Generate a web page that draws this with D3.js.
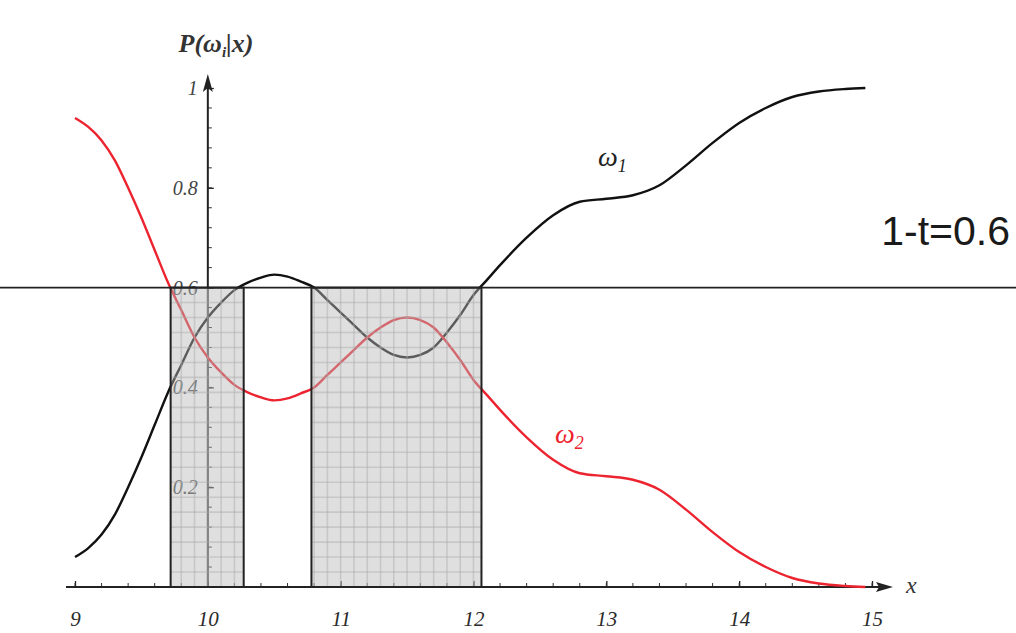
<!DOCTYPE html>
<html>
<head>
<meta charset="utf-8">
<script src="https://cdn.jsdelivr.net/npm/d3@7"></script>
<style>
  body { margin: 0; background: #fff; }
  svg { display: block; }
</style>
</head>
<body>
<svg id="chart"></svg>
<script>
// sample positions along x
var xVals = [9.0, 9.1, 9.2, 9.3, 9.4, 9.5, 9.6, 9.7, 9.8, 9.9, 10.0, 10.1, 10.2, 10.3, 10.4, 10.5,
  10.6, 10.7, 10.8, 10.9, 11.0, 11.1, 11.2, 11.3, 11.4, 11.5, 11.6, 11.7, 11.8, 11.9, 12.0, 12.1,
  12.2, 12.4, 12.6, 12.8, 13.0, 13.2, 13.4, 13.6, 13.8, 14.0, 14.2, 14.4, 14.6, 14.8, 14.95];

// P(w1|x) - black curve
var omega1 = [0.06, 0.078, 0.105, 0.145, 0.20, 0.26, 0.325, 0.39, 0.445, 0.50, 0.54, 0.57, 0.595,
  0.61, 0.62, 0.626, 0.622, 0.612, 0.60, 0.575, 0.55, 0.525, 0.50, 0.48, 0.465, 0.46, 0.465, 0.48,
  0.51, 0.545, 0.585, 0.615, 0.645, 0.70, 0.745, 0.772, 0.778, 0.785, 0.805, 0.845, 0.89, 0.93,
  0.96, 0.982, 0.993, 0.998, 1.0];

// P(w2|x) - red curve
var omega2 = [0.94, 0.922, 0.895, 0.855, 0.80, 0.74, 0.675, 0.61, 0.555, 0.50, 0.46, 0.43, 0.405,
  0.39, 0.38, 0.374, 0.378, 0.388, 0.40, 0.425, 0.45, 0.475, 0.50, 0.52, 0.535, 0.54, 0.535, 0.52,
  0.49, 0.455, 0.415, 0.385, 0.355, 0.30, 0.255, 0.228, 0.222, 0.215, 0.195, 0.155, 0.11, 0.07,
  0.04, 0.018, 0.007, 0.002, 0.0];

var xTickVals = [9, 10, 11, 12, 13, 14, 15];
var yTickVals = [0.2, 0.4, 0.6, 0.8, 1];
var threshold = 0.6;
// reject regions where max posterior < 1-t
var regions = [[9.72, 10.27], [10.78, 12.06]];

var svgWidth = 1016, svgHeight = 633;
var svg = d3.select("#chart").attr("width", svgWidth).attr("height", svgHeight);

var xScale = d3.scaleLinear().domain([9, 15]).range([75, 872]);
var yScale = d3.scaleLinear().domain([0, 1]).range([587, 88]);
var axisY0 = yScale(0), axisX0 = xScale(10);

var serif = "'Liberation Serif', 'DejaVu Serif', serif";

// x axis
var xAxis = d3.axisBottom(xScale)
  .tickValues(xTickVals)
  .tickSize(-6)
  .tickPadding(24)
  .tickFormat(d3.format("d"));
var gx = svg.append("g").attr("transform", "translate(0," + axisY0 + ")").call(xAxis);
gx.select(".domain").remove();
gx.selectAll("line").attr("stroke", "#222").attr("stroke-width", 1.3);
gx.selectAll("text").attr("font-family", serif).attr("font-style", "italic")
  .attr("font-size", 21).attr("fill", "#2a2a2a");

// minor ticks on x
svg.append("g").selectAll("line")
  .data(d3.range(9, 15.01, 0.2))
  .enter().append("line")
  .attr("x1", function(d) { return xScale(d); })
  .attr("x2", function(d) { return xScale(d); })
  .attr("y1", axisY0).attr("y2", axisY0 - 4)
  .attr("stroke", "#333").attr("stroke-width", 1);

svg.append("line")
  .attr("x1", 66).attr("x2", 880).attr("y1", axisY0).attr("y2", axisY0)
  .attr("stroke", "#222").attr("stroke-width", 2);
svg.append("path")
  .attr("d", "M893," + axisY0 + " L876," + (axisY0 - 5) + " L879," + axisY0 + " L876," + (axisY0 + 5) + " Z")
  .attr("fill", "#222");
svg.append("text").attr("x", 906).attr("y", axisY0 + 6)
  .attr("font-family", serif).attr("font-style", "italic").attr("font-size", 24)
  .attr("fill", "#333").text("x");

// y axis
var yAxis = d3.axisLeft(yScale)
  .tickValues(yTickVals)
  .tickSize(-6)
  .tickPadding(10)
  .tickFormat(function(d) { return d === 1 ? "1" : d3.format(".1f")(d); });
var gy = svg.append("g").attr("transform", "translate(" + axisX0 + ",0)").call(yAxis);
gy.select(".domain").remove();
gy.selectAll("line").attr("stroke", "#222").attr("stroke-width", 1.3);
gy.selectAll("text").attr("font-family", serif).attr("font-style", "italic")
  .attr("font-size", 20).attr("fill", "#444");

svg.append("g").selectAll("line")
  .data(d3.range(0.04, 1.0, 0.04))
  .enter().append("line")
  .attr("x1", axisX0).attr("x2", axisX0 + 4)
  .attr("y1", function(d) { return yScale(d); })
  .attr("y2", function(d) { return yScale(d); })
  .attr("stroke", "#333").attr("stroke-width", 1);

svg.append("line")
  .attr("x1", axisX0).attr("x2", axisX0).attr("y1", axisY0).attr("y2", 86)
  .attr("stroke", "#222").attr("stroke-width", 2);
svg.append("path")
  .attr("d", "M" + axisX0 + ",74 L" + (axisX0 - 5) + ",92 L" + axisX0 + ",88 L" + (axisX0 + 5) + ",92 Z")
  .attr("fill", "#222");

var yLabel = svg.append("text").attr("x", 216).attr("y", 52)
  .attr("text-anchor", "middle")
  .attr("font-family", serif).attr("font-style", "italic").attr("font-weight", "bold")
  .attr("font-size", 26).attr("fill", "#333");
yLabel.append("tspan").text("P(ω");
yLabel.append("tspan").attr("font-size", 15).attr("dy", 5).text("i");
yLabel.append("tspan").attr("dy", -5).text("|x)");

// curves
var line = d3.line()
  .x(function(d) { return xScale(d[0]); })
  .y(function(d) { return yScale(d[1]); })
  .curve(d3.curveMonotoneX);

svg.append("path")
  .datum(xVals.map(function(x, i) { return [x, omega1[i]]; }))
  .attr("d", line).attr("fill", "none")
  .attr("stroke", "#111").attr("stroke-width", 2.4);

svg.append("path")
  .datum(xVals.map(function(x, i) { return [x, omega2[i]]; }))
  .attr("d", line).attr("fill", "none")
  .attr("stroke", "#ec2430").attr("stroke-width", 2.4);

// shaded reject regions with fine grid
var gridX = d3.range(9, 15.001, 0.1);
var gridY = d3.range(0, 1.001, 0.03);

regions.forEach(function(r) {
  var x0 = xScale(r[0]), x1 = xScale(r[1]);
  var yTop = yScale(threshold);
  var g = svg.append("g");
  g.append("rect")
    .attr("x", x0).attr("y", yTop).attr("width", x1 - x0).attr("height", axisY0 - yTop)
    .attr("fill", "#b8b8b8").attr("fill-opacity", 0.45);
  g.selectAll(".gv")
    .data(gridX.filter(function(d) { return d > r[0] && d < r[1]; }))
    .enter().append("line")
    .attr("x1", function(d) { return xScale(d); })
    .attr("x2", function(d) { return xScale(d); })
    .attr("y1", yTop).attr("y2", axisY0)
    .attr("stroke", "#aaa").attr("stroke-opacity", 0.45).attr("stroke-width", 1.6);
  g.selectAll(".gh")
    .data(gridY.filter(function(d) { return d > 0.001 && d < threshold - 0.001; }))
    .enter().append("line")
    .attr("x1", x0).attr("x2", x1)
    .attr("y1", function(d) { return yScale(d); })
    .attr("y2", function(d) { return yScale(d); })
    .attr("stroke", "#aaa").attr("stroke-opacity", 0.45).attr("stroke-width", 1.6);
  g.append("rect")
    .attr("x", x0).attr("y", yTop).attr("width", x1 - x0).attr("height", axisY0 - yTop)
    .attr("fill", "none").attr("stroke", "#222").attr("stroke-width", 2);
});

// threshold line
svg.append("line")
  .attr("x1", 0).attr("x2", svgWidth)
  .attr("y1", yScale(threshold)).attr("y2", yScale(threshold))
  .attr("stroke", "#222").attr("stroke-width", 1.6);

svg.append("text").attr("x", 1010).attr("y", 245).attr("text-anchor", "end")
  .attr("font-family", "'Liberation Sans', Arial, sans-serif")
  .attr("font-size", 41).attr("fill", "#1a1a1a").text("1-t=0.6");

// curve labels
var l1 = svg.append("text").attr("x", 598).attr("y", 166)
  .attr("font-family", serif).attr("font-style", "italic")
  .attr("font-size", 28).attr("fill", "#222");
l1.append("tspan").text("ω");
l1.append("tspan").attr("font-size", 18).attr("dy", 6).text("1");

var l2 = svg.append("text").attr("x", 555).attr("y", 443)
  .attr("font-family", serif).attr("font-style", "italic")
  .attr("font-size", 28).attr("fill", "#ec2430");
l2.append("tspan").text("ω");
l2.append("tspan").attr("font-size", 18).attr("dy", 6).text("2");
</script>
</body>
</html>
